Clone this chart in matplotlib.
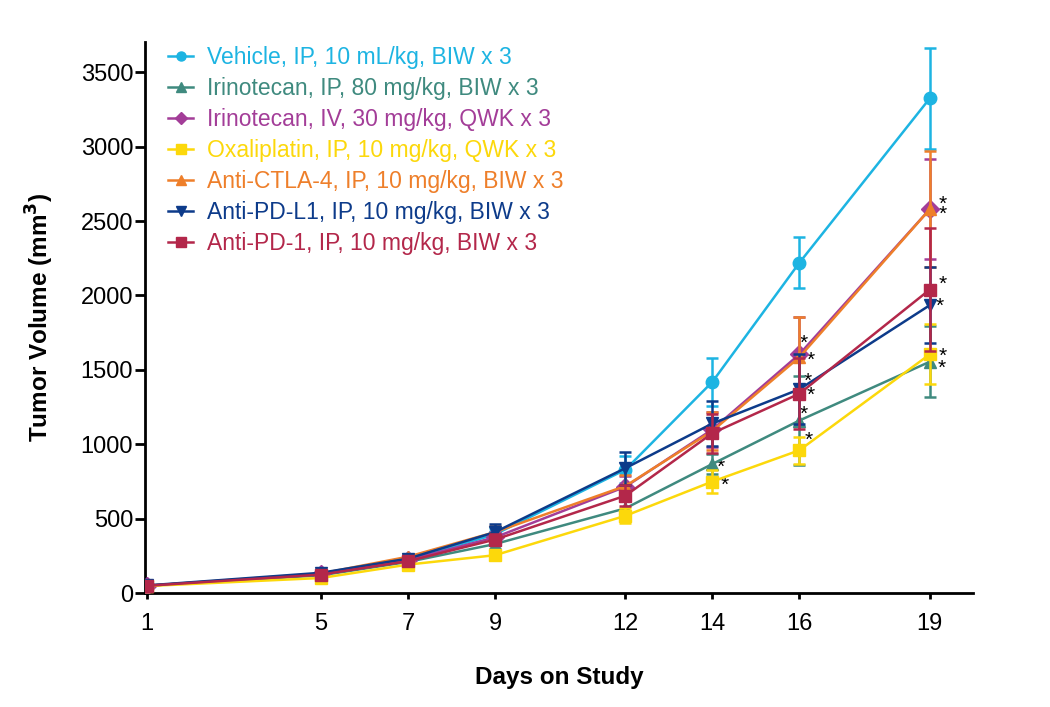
import matplotlib
matplotlib.use('Agg')
import matplotlib.pyplot as plt
from matplotlib.lines import Line2D

# study days and group means / SEM (mm3)
days = [1, 5, 7, 9, 12, 14, 16, 19]

groups = ['Vehicle, IP, 10 mL/kg, BIW x 3',
          'Irinotecan, IP, 80 mg/kg, BIW x 3',
          'Irinotecan, IV, 30 mg/kg, QWK x 3',
          'Oxaliplatin, IP, 10 mg/kg, QWK x 3',
          'Anti-CTLA-4, IP, 10 mg/kg, BIW x 3',
          'Anti-PD-L1, IP, 10 mg/kg, BIW x 3',
          'Anti-PD-1, IP, 10 mg/kg, BIW x 3']

vehicle_mean = [50, 125, 225, 395, 830, 1420, 2220, 3325]
vehicle_sem = [5, 12, 20, 40, 90, 160, 170, 340]
irino_ip_mean = [50, 120, 210, 330, 570, 868, 1160, 1555]
irino_ip_sem = [5, 12, 18, 30, 60, 70, 300, 240]
irino_iv_mean = [50, 128, 222, 375, 715, 1100, 1605, 2580]
irino_iv_sem = [5, 12, 20, 35, 70, 120, 250, 334]
oxali_mean = [48, 102, 192, 255, 520, 750, 960, 1605]
oxali_sem = [5, 10, 15, 25, 50, 80, 90, 200]
ctla4_mean = [50, 132, 245, 410, 720, 1090, 1585, 2580]
ctla4_sem = [5, 12, 20, 40, 75, 130, 270, 390]
pdl1_mean = [52, 137, 232, 410, 840, 1140, 1370, 1935]
pdl1_sem = [5, 12, 20, 55, 110, 150, 235, 255]
pd1_mean = [50, 125, 215, 360, 655, 1075, 1340, 2040]
pd1_sem = [5, 12, 18, 35, 70, 130, 240, 410]

colors = ['#1db4e2', '#3f8a7f', '#a33d98', '#fcd80b', '#ee7f2a', '#0d3b8a', '#b3274a']
markers = ['o', '^', 'D', 's', '^', 'v', 's']

means = [vehicle_mean, irino_ip_mean, irino_iv_mean, oxali_mean,
         ctla4_mean, pdl1_mean, pd1_mean]
sems = [vehicle_sem, irino_ip_sem, irino_iv_sem, oxali_sem,
        ctla4_sem, pdl1_sem, pd1_sem]

# significance stars: (group index, day, offset in points)
stars = [(1, 14, (6, -2.5)), (3, 14, (8.5, -3)),
         (2, 16, (3, 8)), (4, 16, (8, -2.5)), (5, 16, (6, 6)),
         (6, 16, (8, -1.5)), (1, 16, (3, 4.5)), (3, 16, (6.5, 7)),
         (2, 19, (9.5, 3.5)), (4, 19, (9.5, -4)), (6, 19, (9.5, 4)),
         (5, 19, (7, -0.5)), (3, 19, (9.5, -1.5)), (1, 19, (8.5, -4.5))]

plt.rcParams['font.family'] = ['Liberation Sans', 'DejaVu Sans']

fig = plt.figure(figsize=(10.5, 7.07), dpi=100, facecolor='white')
ax = fig.add_axes([0.138, 0.161, 0.789, 0.779])

handles = []
for i in range(len(groups)):
    ax.errorbar(days, means[i], yerr=sems[i], color=colors[i], marker=markers[i],
                markersize=9, linewidth=1.8, elinewidth=1.8, capsize=4.5, capthick=1.8,
                zorder=3 + i * 0.1)
    handles.append(Line2D([], [], color=colors[i], marker=markers[i],
                          markersize=6.5, linewidth=1.8, label=groups[i]))

for g, d, off in stars:
    ax.annotate('*', xy=(d, means[g][days.index(d)]), xytext=off,
                textcoords='offset points', fontsize=15, ha='center', va='center')

ax.set_xlim(0.95, 20)
ax.set_ylim(0, 3700)
ax.set_xticks(days)
ax.set_yticks(range(0, 3501, 500))
ax.tick_params(labelsize=17, width=2, direction='out')
ax.tick_params(axis='x', length=4.5, pad=10)
ax.tick_params(axis='y', length=7, pad=1.5)
for s in ['top', 'right']:
    ax.spines[s].set_visible(False)
for s in ['left', 'bottom']:
    ax.spines[s].set_linewidth(2)

ax.set_xlabel('Days on Study', fontsize=17.5, fontweight='bold', labelpad=22)
ax.set_ylabel('Tumor Volume (mm$\\mathbf{^3}$)', fontsize=17.5, fontweight='bold', labelpad=18)

leg = ax.legend(handles=handles, loc='upper left', bbox_to_anchor=(0.017, 1.01),
                frameon=False, fontsize=16.5, handlelength=1.1, handletextpad=0.6,
                labelspacing=0.35, borderaxespad=0)
for txt, c in zip(leg.get_texts(), colors):
    txt.set_color(c)

fig.savefig('out.png', dpi=100, facecolor='white')
